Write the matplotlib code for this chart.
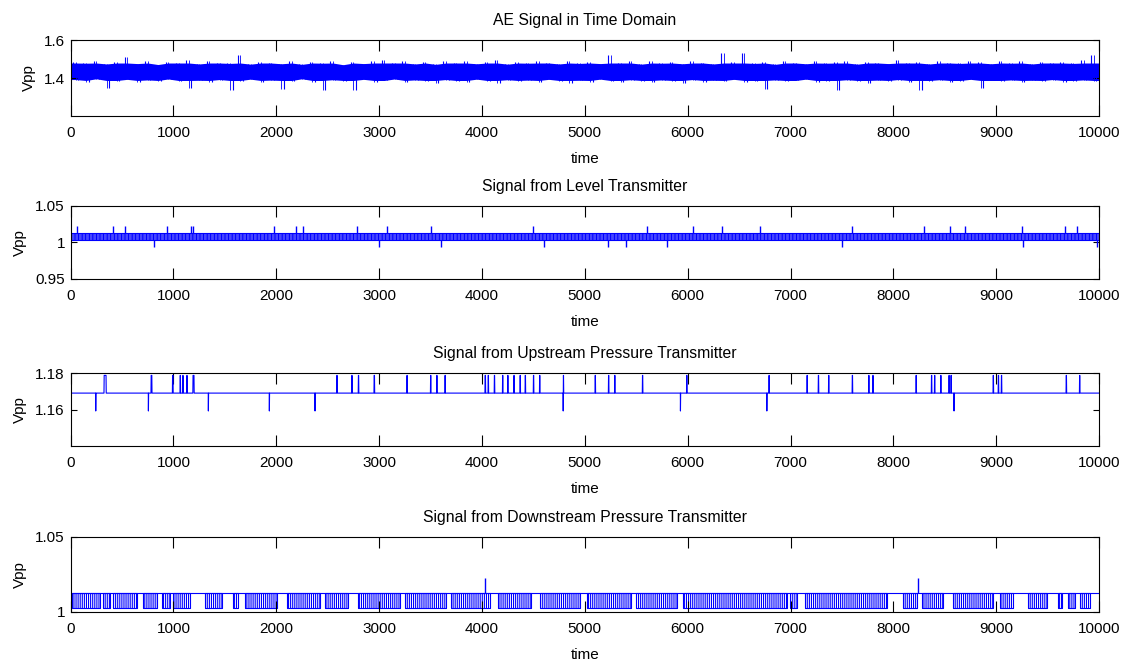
import matplotlib
matplotlib.use("Agg")
import matplotlib.pyplot as plt
import numpy as np

plt.rcParams['font.family'] = ['Liberation Sans', 'DejaVu Sans']
plt.rcParams['font.size'] = 11
plt.rcParams['axes.linewidth'] = 0.8
plt.rcParams['hatch.linewidth'] = 0.8

# ---- data ----
n_samples = 10000
x_ticks = [0, 1000, 2000, 3000, 4000, 5000, 6000, 7000, 8000, 9000, 10000]
titles = ["AE Signal in Time Domain",
          "Signal from Level Transmitter",
          "Signal from Upstream Pressure Transmitter",
          "Signal from Downstream Pressure Transmitter"]

# AE signal: band edge (max / min) per 100-sample bin
ae_top = [1.486, 1.478, 1.492, 1.474, 1.483, 1.512, 1.476, 1.490, 1.471, 1.485,
          1.479, 1.493, 1.474, 1.488, 1.481, 1.477, 1.519, 1.473, 1.486, 1.480,
          1.475, 1.489, 1.472, 1.484, 1.478, 1.491, 1.470, 1.482, 1.476, 1.487,
          1.497, 1.480, 1.490, 1.474, 1.485, 1.472, 1.488, 1.479, 1.492, 1.475,
          1.482, 1.495, 1.473, 1.486, 1.478, 1.490, 1.481, 1.474, 1.489, 1.477,
          1.484, 1.476, 1.521, 1.480, 1.487, 1.473, 1.491, 1.478, 1.483, 1.475,
          1.488, 1.479, 1.474, 1.534, 1.482, 1.533, 1.477, 1.486, 1.472, 1.489,
          1.481, 1.475, 1.492, 1.478, 1.484, 1.490, 1.473, 1.486, 1.480, 1.476,
          1.493, 1.479, 1.485, 1.474, 1.488, 1.481, 1.477, 1.490, 1.483, 1.475,
          1.487, 1.478, 1.491, 1.474, 1.486, 1.480, 1.484, 1.477, 1.496, 1.520]
ae_bot = [1.392, 1.381, 1.396, 1.345, 1.386, 1.393, 1.379, 1.390, 1.384, 1.395,
          1.382, 1.346, 1.388, 1.377, 1.392, 1.338, 1.385, 1.394, 1.380, 1.389,
          1.340, 1.383, 1.396, 1.378, 1.338, 1.391, 1.384, 1.339, 1.393, 1.381,
          1.387, 1.395, 1.379, 1.390, 1.383, 1.376, 1.392, 1.386, 1.380, 1.394,
          1.385, 1.372, 1.391, 1.382, 1.389, 1.378, 1.393, 1.384, 1.375, 1.388,
          1.381, 1.394, 1.386, 1.379, 1.391, 1.383, 1.377, 1.390, 1.385, 1.372,
          1.392, 1.380, 1.388, 1.384, 1.393, 1.378, 1.386, 1.341, 1.390, 1.382,
          1.387, 1.394, 1.379, 1.385, 1.338, 1.391, 1.383, 1.376, 1.389, 1.384,
          1.392, 1.380, 1.338, 1.386, 1.391, 1.378, 1.385, 1.393, 1.345, 1.387,
          1.382, 1.390, 1.377, 1.388, 1.384, 1.392, 1.379, 1.386, 1.390, 1.383]
# range that the dense part of the band keeps to
ae_band = (1.387, 1.479)

# level transmitter: quantised levels, toggling band plus spikes
lvl_levels = [0.9932, 1.0029, 1.0127, 1.0225]
lvl_up_t = [60, 416, 530, 935, 1169, 1195, 1982, 2193, 2258, 2789, 3080, 3500,
            4500, 5600, 6050, 6330, 6700, 7600, 8300, 8550, 8700, 9250, 9670, 9790]
lvl_down_t = [815, 3000, 3600, 4600, 5230, 5400, 5800, 7500, 9260, 9978]

# upstream pressure: baseline with short excursions (start, end)
up_levels = [1.1592, 1.1690, 1.1787]
up_high = [(326, 345), (783, 790), (991, 996), (1065, 1068), (1091, 1094),
           (1130, 1133), (1190, 1200), (2588, 2592), (2734, 2737), (2798, 2801),
           (2951, 2955), (3270, 3273), (3500, 3503), (3560, 3563), (3640, 3643),
           (4030, 4034), (4060, 4063), (4120, 4123), (4200, 4203), (4250, 4253),
           (4310, 4313), (4370, 4373), (4420, 4423), (4500, 4503), (4560, 4563),
           (4790, 4793), (5100, 5103), (5230, 5233), (5290, 5293), (5560, 5563),
           (5990, 5993), (6790, 6793), (7160, 7163), (7270, 7273), (7370, 7373),
           (7600, 7603), (7760, 7763), (7800, 7803), (8220, 8223), (8370, 8373),
           (8400, 8403), (8460, 8463), (8540, 8543), (8560, 8563), (8970, 8973),
           (9020, 9023), (9050, 9053), (9680, 9683), (9810, 9813)]
up_low = [245, 757, 1340, 1933, 2377, 4790, 5930, 6770, 8590]

# downstream pressure: baseline with clusters of drops (start, end) and spikes
dn_levels = [1.0029, 1.0127, 1.0225]
dn_clusters = [(11, 287), (319, 384), (416, 643), (708, 838), (886, 967),
               (1000, 1162), (1308, 1470), (1583, 1632), (1697, 2005),
               (2102, 2426), (2475, 2701), (2799, 3204), (3250, 3650),
               (3700, 4080), (4160, 4480), (4560, 4950), (5020, 5450),
               (5500, 5900), (5950, 6964), (6996, 7061), (7142, 7936),
               (8098, 8228), (8276, 8487), (8584, 8973), (9038, 9168),
               (9313, 9491), (9605, 9637), (9702, 9767), (9816, 9913)]
dn_spike_t = [4030, 8244]

y_limits = [(1.2, 1.6), (0.95, 1.05), (1.14, 1.18), (1.0, 1.05)]
y_ticks = [[1.4, 1.6], [0.95, 1.0, 1.05], [1.16, 1.18], [1.0, 1.05]]
y_ticklabels = [["1.4", "1.6"], ["0.95", "1", "1.05"], ["1.16", "1.18"], ["1", "1.05"]]

# ---- figure ----
fig = plt.figure(figsize=(11.27, 6.66), dpi=100)
positions = [[0.0626, 0.8258, 0.9126, 0.1141],
             [0.0626, 0.5811, 0.9126, 0.1096],
             [0.0626, 0.3303, 0.9126, 0.1096],
             [0.0626, 0.0811, 0.9126, 0.1126]]
axes = [fig.add_axes(p) for p in positions]
blue = "#0000ff"

# AE: dense band (clipped edges) plus thin needles out to each bin's extremes
ax = axes[0]
top = np.clip(ae_top, None, ae_band[1])
bot = np.clip(ae_bot, ae_band[0], None)
bin_t = np.arange(len(ae_top)) * 100 + 50
edge_t = np.concatenate([[0], bin_t, [n_samples]])
ax.fill_between(edge_t, np.r_[bot[0], bot, bot[-1]], np.r_[top[0], top, top[-1]],
                color=blue, lw=0)
ax.vlines(bin_t - 25, 1.44, ae_top, color=blue, lw=0.8)
ax.vlines(bin_t + 25, ae_bot, 1.44, color=blue, lw=0.8)
ax.vlines(bin_t, ae_bot, ae_top, color=blue, lw=0.6)

# level transmitter
ax = axes[1]
ax.fill_between([0, n_samples], lvl_levels[1], lvl_levels[2], facecolor="none",
                edgecolor=blue, hatch="|" * 12, lw=0)
ax.plot([0, n_samples], [lvl_levels[2]] * 2, color=blue, lw=0.8)
ax.plot([0, n_samples], [lvl_levels[1]] * 2, color=blue, lw=0.8)
ax.vlines(lvl_up_t, lvl_levels[2], lvl_levels[3], color=blue, lw=1.0)
ax.vlines(lvl_down_t, lvl_levels[0], lvl_levels[1], color=blue, lw=1.0)

# upstream
ax = axes[2]
t = np.arange(n_samples + 1)
sig = np.full(n_samples + 1, up_levels[1])
for a, b in up_high:
    sig[a:b + 1] = up_levels[2]
sig[up_low] = up_levels[0]
ax.plot(t, sig, color=blue, lw=0.8)

# downstream
ax = axes[3]
ax.plot([0, n_samples], [dn_levels[1], dn_levels[1]], color=blue, lw=0.8)
for a, b in dn_clusters:
    ax.fill_between([a, b], dn_levels[0], dn_levels[1], facecolor="none",
                    edgecolor=blue, hatch="|" * 8, lw=0.8)
ax.vlines(dn_spike_t, dn_levels[1], dn_levels[2], color=blue, lw=1.0)

for i, ax in enumerate(axes):
    ax.set_xlim(0, n_samples)
    ax.set_ylim(*y_limits[i])
    ax.set_xticks(x_ticks)
    ax.set_yticks(y_ticks[i])
    ax.set_yticklabels(y_ticklabels[i])
    ax.tick_params(direction="in", top=True, right=True, width=0.8,
                   labelsize=11)
    ax.tick_params(axis="x", length=8, pad=7)
    ax.tick_params(axis="y", length=4.5, pad=4)
    ax.set_title(titles[i], fontsize=11.3, pad=11)
    ax.set_xlabel("time", fontsize=11, labelpad=9)
    ax.set_ylabel("Vpp", fontsize=11, labelpad=6)

fig.savefig("out.png", dpi=100)
